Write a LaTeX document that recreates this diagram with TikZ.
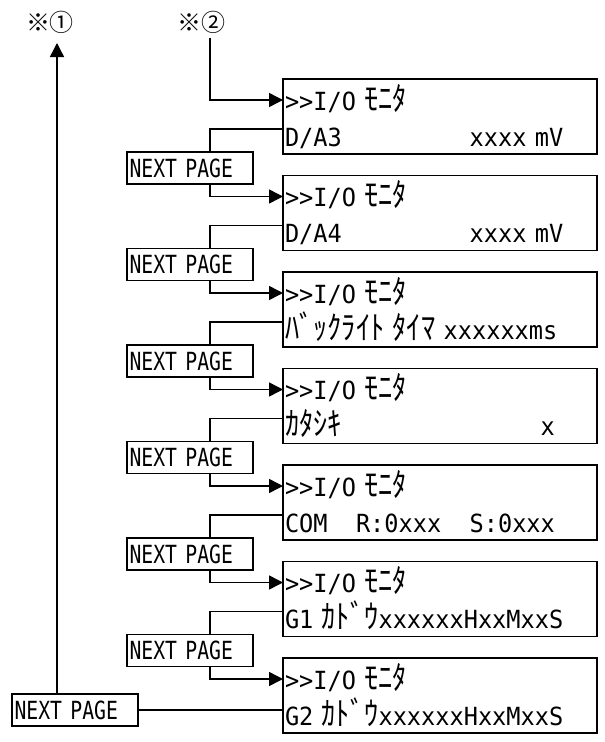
\documentclass[tikz,border=0pt]{standalone}
\usepackage{fontspec}
\usetikzlibrary{arrows.meta, positioning}

\newfontfamily\lcdfont[FakeStretch=0.944]{DejaVu Sans Mono}
\newfontfamily\btnfont[FakeStretch=0.79]{DejaVu Sans Mono}
\newfontfamily\kanafont[Scale=1.3, FakeStretch=0.874]{Noto Sans CJK JP}
\newfontfamily\notefont{Noto Sans CJK JP}

\newlength\cw
\setlength\cw{14.2pt}
\newcommand\kana[1]{{\kanafont #1}}
\newcommand\gap[1]{\hspace*{#1\cw}}
\newcommand\lcdrow{\rule[-3pt]{0pt}{27pt}}

\begin{document}
\begin{tikzpicture}[
    node distance=21.5pt,
    screen/.style={rectangle, draw, line width=1.5pt, outer sep=0pt, text width=310pt, align=left, inner xsep=2pt, inner ysep=0pt, minimum height=75pt, font=\lcdfont\fontsize{25pt}{36pt}\selectfont},
    nextbtn/.style={rectangle, draw, line width=1.5pt, outer sep=0pt, text width=121pt, align=left, inner xsep=2.5pt, inner ysep=0pt, minimum height=32pt, font=\btnfont\fontsize{25pt}{28pt}\selectfont},
    note/.style={font=\notefont\fontsize{24pt}{28pt}\selectfont, inner sep=0pt},
    link/.style={line width=1.5pt},
    arrow/.style={-{Triangle[length=14pt, width=14pt]}, line width=1.5pt}
]
    \useasboundingbox (0,0) rectangle (605pt,-742pt);

    \node[screen, anchor=north west] (da3) at (283pt,-79pt) {\lcdrow>>I/O \kana{ﾓﾆﾀ}\\\lcdrow D/A3\gap{9}xxxx mV};
    \node[screen, below=of da3] (da4) {\lcdrow>>I/O \kana{ﾓﾆﾀ}\\\lcdrow D/A4\gap{9}xxxx mV};
    \node[screen, below=of da4] (backlight) {\lcdrow>>I/O \kana{ﾓﾆﾀ}\\\lcdrow\kana{ﾊﾞｯｸﾗｲﾄ} \kana{ﾀｲﾏ} xxxxxxms};
    \node[screen, below=of backlight] (model) {\lcdrow>>I/O \kana{ﾓﾆﾀ}\\\lcdrow\kana{ｶﾀｼｷ}\gap{14}x};
    \node[screen, below=of model] (com) {\lcdrow>>I/O \kana{ﾓﾆﾀ}\\\lcdrow COM\gap{2}R:0xxx\gap{2}S:0xxx};
    \node[screen, below=of com] (gone) {\lcdrow>>I/O \kana{ﾓﾆﾀ}\\\lcdrow G1 \kana{ｶﾄﾞｳ}xxxxxxHxxMxxS};
    \node[screen, below=of gone] (gtwo) {\lcdrow>>I/O \kana{ﾓﾆﾀ}\\\lcdrow G2 \kana{ｶﾄﾞｳ}xxxxxxHxxMxxS};

    \node[nextbtn, below left=-2pt and 30pt of da3.south west] (np1) {NEXT PAGE};
    \node[nextbtn, below left=-2pt and 30pt of da4.south west] (np2) {NEXT PAGE};
    \node[nextbtn, below left=-2pt and 30pt of backlight.south west] (np3) {NEXT PAGE};
    \node[nextbtn, below left=-2pt and 30pt of model.south west] (np4) {NEXT PAGE};
    \node[nextbtn, below left=-2pt and 30pt of com.south west] (np5) {NEXT PAGE};
    \node[nextbtn, below left=-2pt and 30pt of gone.south west] (np6) {NEXT PAGE};
    \node[nextbtn, anchor=east] (np7) at ([xshift=-145pt, yshift=-52pt]gtwo.north west) {NEXT PAGE};

    \node[note] (ref1) at (50pt,-22.5pt) {※①};
    \node[note] (ref2) at (201pt,-22.5pt) {※②};
    \coordinate (to1) at (57pt,-43pt);
    \coordinate (from2) at (210pt,-38pt);

    % entry from ※②
    \draw[arrow] (from2) |- ([yshift=-21pt]da3.north west);

    % screen -> NEXT PAGE -> next screen
    \draw[link] ([yshift=-50pt]da3.north west) -| ([xshift=20pt]np1.north);
    \draw[arrow] ([xshift=20pt]np1.south) |- ([yshift=-21pt]da4.north west);
    \draw[link] ([yshift=-50pt]da4.north west) -| ([xshift=20pt]np2.north);
    \draw[arrow] ([xshift=20pt]np2.south) |- ([yshift=-21pt]backlight.north west);
    \draw[link] ([yshift=-50pt]backlight.north west) -| ([xshift=20pt]np3.north);
    \draw[arrow] ([xshift=20pt]np3.south) |- ([yshift=-21pt]model.north west);
    \draw[link] ([yshift=-50pt]model.north west) -| ([xshift=20pt]np4.north);
    \draw[arrow] ([xshift=20pt]np4.south) |- ([yshift=-21pt]com.north west);
    \draw[link] ([yshift=-50pt]com.north west) -| ([xshift=20pt]np5.north);
    \draw[arrow] ([xshift=20pt]np5.south) |- ([yshift=-21pt]gone.north west);
    \draw[link] ([yshift=-50pt]gone.north west) -| ([xshift=20pt]np6.north);
    \draw[arrow] ([xshift=20pt]np6.south) |- ([yshift=-21pt]gtwo.north west);

    % exit to ※①
    \draw[link] ([yshift=-52pt]gtwo.north west) -- (np7.east);
    \draw[arrow] (to1 |- np7.north) -- (to1);
\end{tikzpicture}
\end{document}
